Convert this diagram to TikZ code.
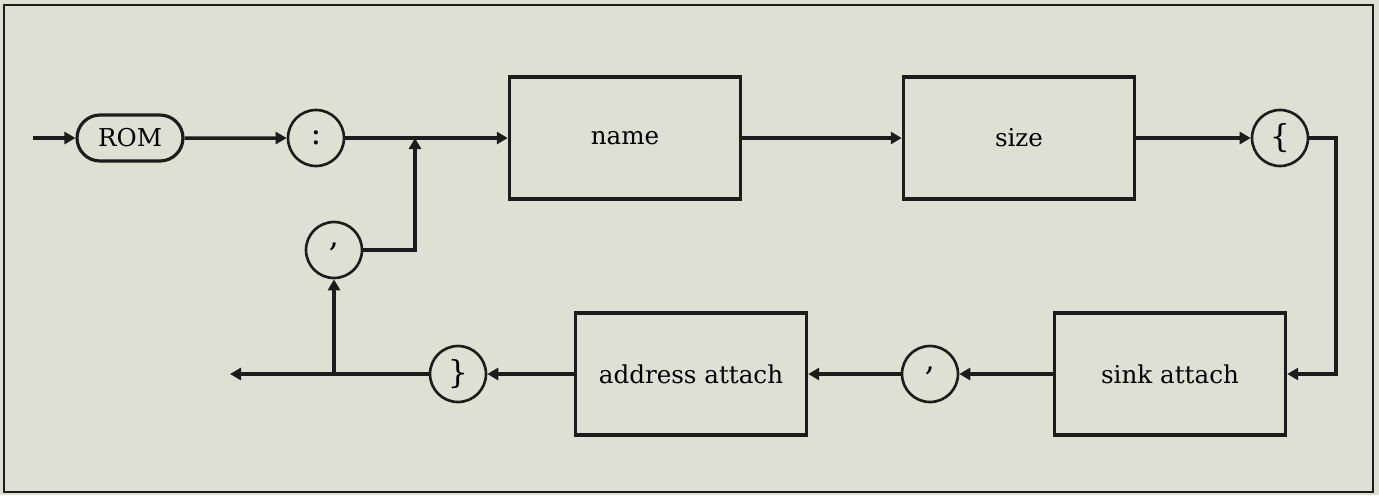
\documentclass[tikz,border=0pt]{standalone}
\usepackage{fontspec}
\setmainfont{DejaVu Serif}
\usetikzlibrary{arrows.meta,shapes.misc}
\definecolor{paper}{RGB}{221,224,211}
\definecolor{ink}{RGB}{28,28,28}
\tikzset{
  box/.style={draw=ink,line width=2pt,minimum width=4.62cm,minimum height=2.44cm,font=\fontsize{14}{16}\selectfont},
  term/.style={draw=ink,circle,line width=1.5pt,minimum size=1.12cm,inner sep=0pt,font=\fontsize{18}{20}\selectfont},
  kw/.style={draw=ink,rounded rectangle,line width=1.8pt,minimum width=2.26cm,minimum height=0.92cm,inner sep=2pt,font=\fontsize{14}{16}\selectfont},
  link/.style={draw=ink,line width=2pt,-{Triangle[length=0.22cm,width=0.24cm]}}
}

\begin{document}
\begin{tikzpicture}[x=0.02cm,y=-0.02cm]
  \fill[paper] (0,0) rectangle (1379,495);
  \useasboundingbox (0,0) rectangle (1379,495);
  \draw[ink,line width=1.1pt] (4,5) rectangle (1373,492);
  % upper row
  \node[kw] (rom) at (130,138) {ROM};
  \node[term] (colon) at (316,138) {:};
  \node[box] (name) at (625,138) {name};
  \node[box] (size) at (1019,138) {size};
  \node[term] (lbrace) at (1280,138) {\{};
  \node[term] (commaA) at (334,250) {\raisebox{0.6ex}{,}};
  % lower row
  \node[box] (sink) at (1170,374) {sink attach};
  \node[term] (commaB) at (930,374) {\raisebox{0.6ex}{,}};
  \node[box] (addr) at (691,374) {address attach};
  \node[term] (rbrace) at (458,374) {\}};
  \coordinate (start) at (33,138);
  \coordinate (stop) at (230,374);
  \coordinate (join) at (415,138);
  \coordinate (turn) at (1336,374);
  % connectors
  \draw[link] (start) -- (rom);
  \draw[link] (rom) -- (colon);
  \draw[link] (colon) -- (name);
  \draw[link] (commaA) -| (join);
  \draw[link] (name) -- (size);
  \draw[link] (size) -- (lbrace);
  \draw[link] (lbrace) -| (turn) -- (sink);
  \draw[link] (sink) -- (commaB);
  \draw[link] (commaB) -- (addr);
  \draw[link] (addr) -- (rbrace);
  \draw[link] (rbrace) -- (stop);
  \draw[link] (commaA |- stop) -- (commaA);
\end{tikzpicture}
\end{document}
